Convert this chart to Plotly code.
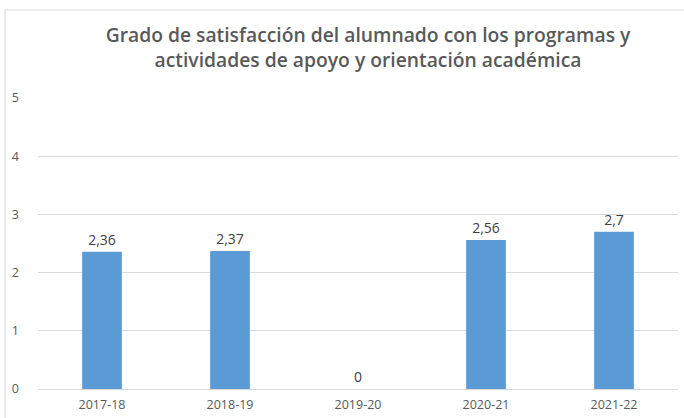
import plotly.graph_objects as go

# Curso académico y valoración media (escala 0-5)
cursos = ["2017-18", "2018-19", "2019-20", "2020-21", "2021-22"]
satisfaccion = [2.36, 2.37, 0, 2.56, 2.7]

titulo = ("Grado de satisfacción del alumnado con los programas y<br>"
          "actividades de apoyo y orientación académica")

fig = go.Figure()
fig.add_trace(go.Bar(
    x=cursos,
    y=satisfaccion,
    width=0.31,
    marker=dict(color="#5B9BD5", line=dict(width=0)),
    texttemplate="%{y}",
    textposition="outside",
    cliponaxis=False,
    textfont=dict(family="Open Sans, sans-serif", size=14, color="#404040"),
    hoverinfo="skip",
))

# marco exterior del gráfico
fig.add_shape(type="rect", xref="paper", yref="paper",
              x0=(5 - 38) / 640, x1=1.2, y0=-0.3, y1=(389 - 10) / 291,
              line=dict(color="#d9d9d9", width=1), layer="below")

fig.update_layout(
    width=684, height=418,
    margin=dict(l=38, r=6, t=98, b=29),
    paper_bgcolor="white", plot_bgcolor="white",
    separators=",.",
    showlegend=False,
    title=dict(
        text=titulo,
        x=368 / 684, xanchor="center",
        y=1 - 41.5 / 418, yanchor="middle",
        font=dict(family="Open Sans, sans-serif", size=19.3, color="#595959", weight=600),
    ),
    xaxis=dict(
        showgrid=False, showline=False, ticks="",
        tickfont=dict(family="Open Sans, sans-serif", size=12.5, color="#595959"),
        ticklabelstandoff=6,
    ),
    yaxis=dict(
        range=[0, 5], tickvals=[0, 1, 2, 3, 4, 5],
        showgrid=True, gridcolor="#d9d9d9", gridwidth=1,
        zeroline=True, zerolinecolor="#d9d9d9", zerolinewidth=1,
        showline=False, ticks="",
        tickfont=dict(family="Open Sans, sans-serif", size=12.5, color="#595959"),
        ticklabelstandoff=18,
    ),
)

fig.write_html("out.html")
